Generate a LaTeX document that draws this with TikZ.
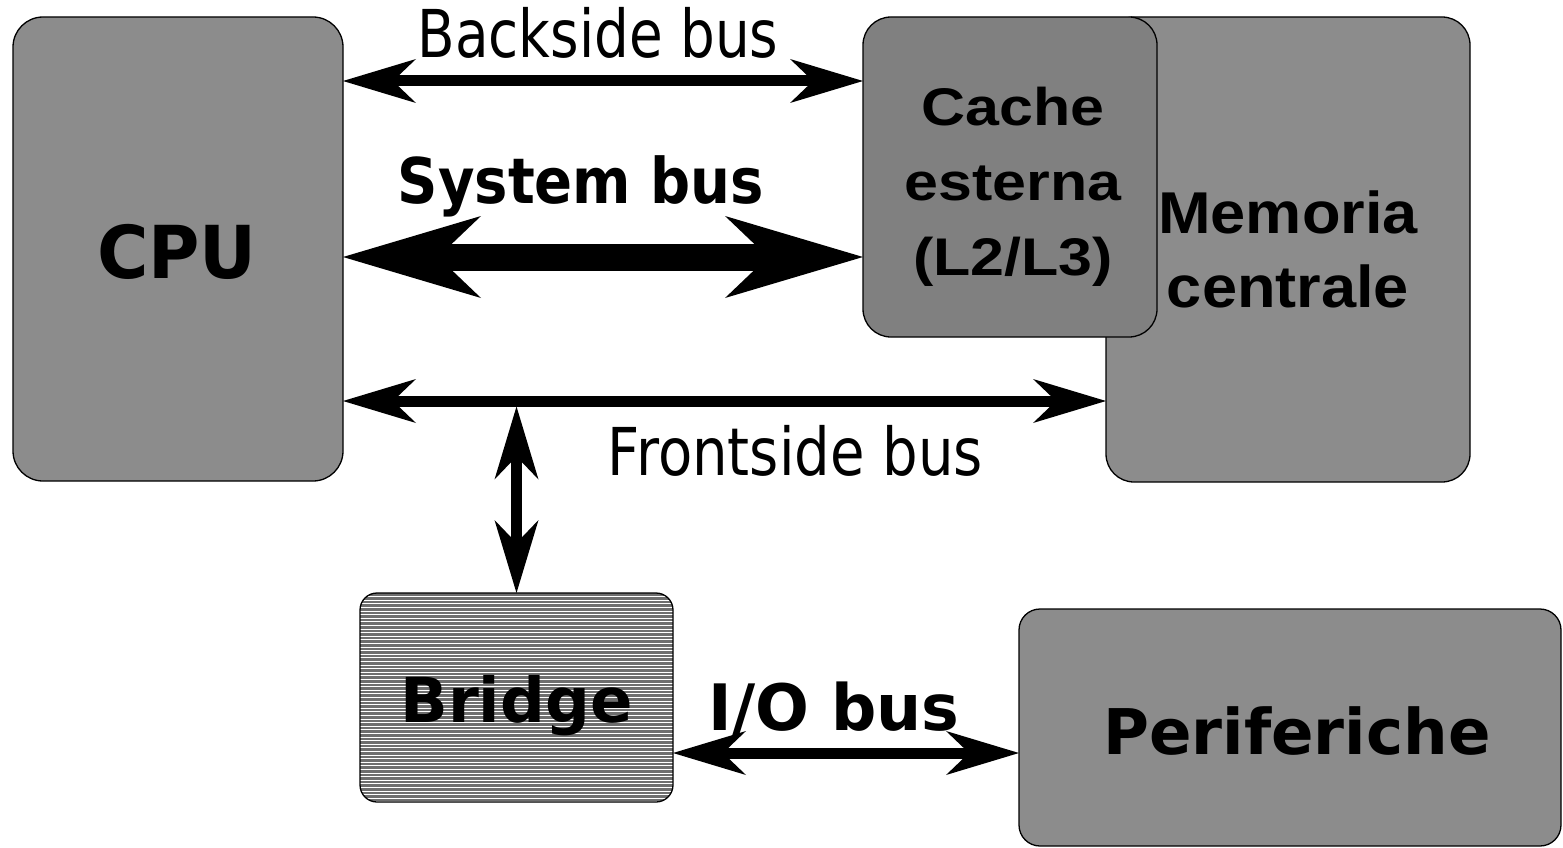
\documentclass[tikz,border=0pt]{standalone}
\usepackage{fontspec}
\usetikzlibrary{arrows.meta}
\newfontfamily\tahfont{DejaVu Sans}
\newfontfamily\arifont{Liberation Sans}
\newcommand{\hstretch}[2]{\scalebox{#1}[1]{#2}}
\definecolor{boxgray}{HTML}{8C8C8C}
\definecolor{cachegray}{HTML}{808080}
\definecolor{bridgegray}{HTML}{6E6E6E}
\tikzset{
  block/.style={draw=black, line width=1.3pt, inner sep=0pt, outer sep=0pt},
  thinbus/.style={line width=11pt,
    {Stealth[length=73pt,width=44pt,inset=23pt,line width=0pt]}-{Stealth[length=73pt,width=44pt,inset=23pt,line width=0pt]}},
  fatbus/.style={line width=27pt,
    {Stealth[length=138pt,width=82pt,inset=43pt,line width=0pt]}-{Stealth[length=138pt,width=82pt,inset=43pt,line width=0pt]}},
  lbl/.style={anchor=base, inner sep=0pt, outer sep=0pt},
  regfont/.style={font=\tahfont\fontsize{66}{66}\selectfont},
  boldfont/.style={font=\tahfont\bfseries\fontsize{#1}{#1}\selectfont},
  hatched/.style={fill=bridgegray, path picture={
      \foreach \k in {1,...,58}
        \draw[white, line width=1pt]
          ([yshift=-\k*3.6pt]path picture bounding box.north west) --
          ([yshift=-\k*3.6pt]path picture bounding box.north east);}},
}
\begin{document}
\begin{tikzpicture}[x=1pt,y=-1pt]
\useasboundingbox (0,0) rectangle (1563,848);

% boxes
\node[block, fill=boxgray, rounded corners=30pt, minimum width=330pt, minimum height=464pt] (cpu) at (178,249) {};
\node[block, fill=boxgray, rounded corners=28pt, minimum width=364pt, minimum height=465pt] (mem) at (1288,249.5) {};
\node[block, fill=cachegray, rounded corners=28pt, minimum width=294pt, minimum height=320pt] (cache) at (1010,177) {};
\node[block, hatched, rounded corners=17pt, minimum width=313pt, minimum height=209pt] (bridge) at (516.5,697.5) {};
\node[block, fill=boxgray, rounded corners=21pt, minimum width=542pt, minimum height=237pt] (peri) at (1290,727.5) {};

% box texts
\node[lbl, boldfont=73] (cputxt) at (177,278) {\hstretch{0.96}{CPU}};
\node[align=center, inner sep=0pt, font=\arifont\bfseries\fontsize{53}{75}\selectfont] (cachetxt) at (1013,186.5)
  {\hstretch{1.15}{Cache}\\\hstretch{1.15}{esterna}\\\hstretch{1.15}{(L2/L3)}};
\node[align=center, inner sep=0pt, font=\arifont\bfseries\fontsize{59}{74}\selectfont] (memtxt) at (1288,249.5)
  {\hstretch{1.07}{Memoria}\\\hstretch{1.07}{centrale}};
\node[lbl, boldfont=62] (bridgetxt) at (516.5,722) {\hstretch{1.01}{Bridge}};
\node[lbl, boldfont=63] (peritxt) at (1297,754) {\hstretch{0.995}{Periferiche}};

% bus lines
\coordinate (bkline) at (600,81);
\coordinate (sysline) at (600,257);
\coordinate (fsline) at (600,401);
\coordinate (fsjoin) at (516.5,406.5);
\coordinate (ioline) at (840,753);

\draw[thinbus] (cpu.east |- bkline) -- (cache.west |- bkline);
\draw[fatbus] (cpu.east |- sysline) -- (cache.west |- sysline);
\draw[thinbus] (cpu.east |- fsline) -- (mem.west |- fsline);
\draw[thinbus] (fsjoin) -- (bridge.north);
\draw[thinbus] (bridge.east |- ioline) -- (peri.west |- ioline);

% bus labels
\node[lbl, regfont] (bktxt) at (598,58) {\hstretch{0.83}{Backside bus}};
\node[lbl, boldfont=63] (systxt) at (581,203) {\hstretch{0.89}{System bus}};
\node[lbl, regfont] (fstxt) at (795.5,475) {\hstretch{0.85}{Frontside bus}};
\node[lbl, boldfont=64] (iotxt) at (834,730) {\hstretch{0.99}{I/O bus}};
\end{tikzpicture}
\end{document}
